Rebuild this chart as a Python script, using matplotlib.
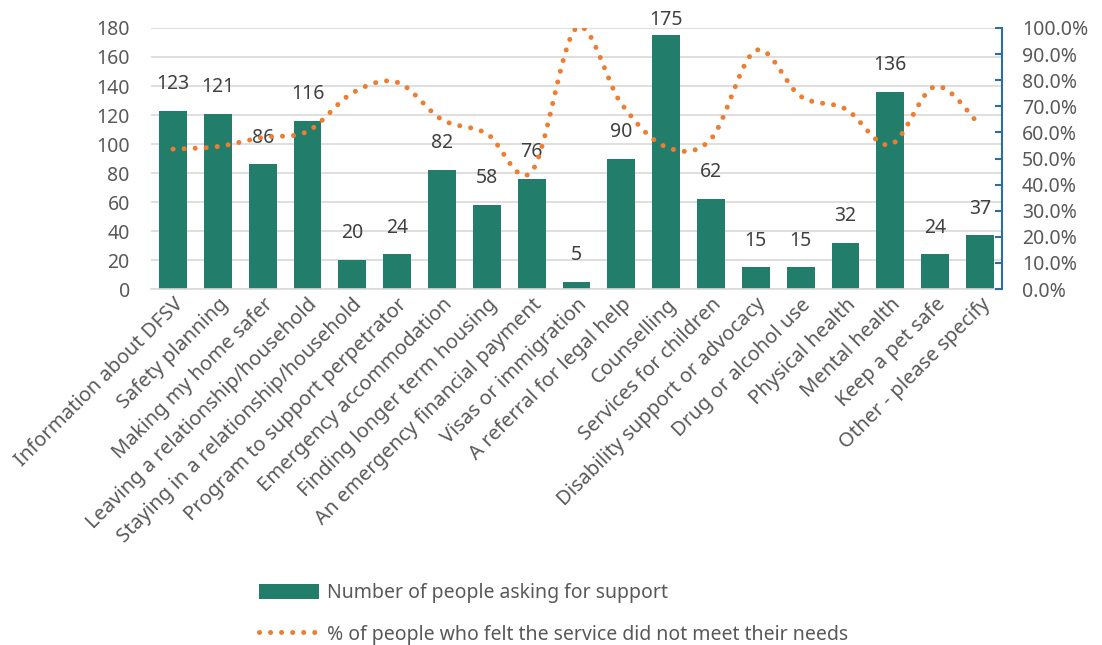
import matplotlib
matplotlib.use("Agg")
import matplotlib.pyplot as plt
from matplotlib.ticker import PercentFormatter
import numpy as np

plt.rcParams['font.family'] = ['Noto Sans', 'DejaVu Sans']

categories = [
    "Information about DFSV", "Safety planning", "Making my home safer",
    "Leaving a relationship/household", "Staying in a relationship/household",
    "Program to support perpetrator", "Emergency accommodation",
    "Finding longer term housing", "An emergency financial payment",
    "Visas or immigration", "A referral for legal help", "Counselling",
    "Services for children", "Disability support or advocacy",
    "Drug or alcohol use", "Physical health", "Mental health",
    "Keep a pet safe", "Other - please specify",
]
people_asking = [123, 121, 86, 116, 20, 24, 82, 58, 76, 5, 90, 175, 62, 15, 15, 32, 136, 24, 37]
pct_not_met = [53.6, 54.6, 58.1, 60.4, 75.1, 79.2, 64.9, 59.5, 45.0, 100.0,
               71.0, 54.4, 57.5, 91.4, 73.8, 69.0, 55.3, 77.6, 62.7]

bar_color = "#237D6B"
line_color = "#ED7D31"
text_color = "#595959"


def smooth(xs, ys, n=30):
    # Excel-style smoothed line: cubic Bezier through each point
    xs = np.asarray(xs, float)
    ys = np.asarray(ys, float)
    px, py = [], []
    for i in range(len(xs) - 1):
        x0, y0 = xs[max(i - 1, 0)], ys[max(i - 1, 0)]
        x1, y1 = xs[i], ys[i]
        x2, y2 = xs[i + 1], ys[i + 1]
        x3, y3 = xs[min(i + 2, len(xs) - 1)], ys[min(i + 2, len(ys) - 1)]
        c1x, c1y = x1 + (x2 - x0) / 6, y1 + (y2 - y0) / 6
        c2x, c2y = x2 - (x3 - x1) / 6, y2 - (y3 - y1) / 6
        t = np.linspace(0, 1, n, endpoint=(i == len(xs) - 2))
        a, b, c, d = (1 - t) ** 3, 3 * (1 - t) ** 2 * t, 3 * (1 - t) * t ** 2, t ** 3
        px.extend(a * x1 + b * c1x + c * c2x + d * x2)
        py.extend(a * y1 + b * c1y + c * c2y + d * y2)
    return np.array(px), np.array(py)


fig = plt.figure(figsize=(11.02, 6.45), dpi=100)
ax = fig.add_axes([0.1367, 0.5519, 0.7729, 0.4047])
x = np.arange(len(categories))

bars = ax.bar(x, people_asking, width=0.62, color=bar_color, zorder=2,
              label="Number of people asking for support")
for xi, v in zip(x, people_asking):
    off = 12 if v < 170 else 4
    ax.annotate(str(v), (xi, v), xytext=(0, off), textcoords="offset points",
                ha="center", va="bottom", fontsize=14, color="#404040", zorder=5)

ax.set_xlim(-0.5, len(categories) - 0.5)
ax.set_ylim(0, 180)
ax.set_yticks(range(0, 181, 20))
ax.grid(axis="y", color="#D9D9D9", lw=1.2, zorder=0)
ax.set_axisbelow(True)
for s in ["top", "right", "left"]:
    ax.spines[s].set_visible(False)
ax.spines["bottom"].set_color("#D9D9D9")
ax.spines["bottom"].set_linewidth(1.2)
ax.tick_params(axis="y", length=0, pad=15, labelsize=14, labelcolor=text_color)
ax.tick_params(axis="x", length=0, pad=4)
ax.set_xticks(x)
ax.set_xticklabels(categories, rotation=45, ha="right", rotation_mode="anchor",
                   fontsize=14.5, color=text_color)

ax2 = ax.twinx()
sx, sy = smooth(x, pct_not_met)
ax2.plot(sx, sy, color=line_color, lw=3.6, linestyle=(0, (0.01, 2.2)),
         dash_capstyle="round", zorder=4,
         label="% of people who felt the service did not meet their needs")
ax2.set_ylim(0, 100)
ax2.set_yticks(range(0, 101, 10))
ax2.yaxis.set_major_formatter(PercentFormatter(decimals=1))
for s in ["top", "left", "bottom"]:
    ax2.spines[s].set_visible(False)
ax2.spines["right"].set_color("#2E6E9E")
ax2.spines["right"].set_linewidth(1.5)
ax2.tick_params(axis="y", direction="in", length=5, width=1.5, color="#2E6E9E",
                pad=14, labelsize=14, labelcolor=text_color)

h1, l1 = ax.get_legend_handles_labels()
h2, l2 = ax2.get_legend_handles_labels()
fig.legend(h1 + h2, l1 + l2, loc="upper left", bbox_to_anchor=(0.228, 0.108),
           ncol=1, frameon=False, fontsize=14, labelcolor=text_color,
           handlelength=3.1, handleheight=0.8, labelspacing=1.1, handletextpad=0.4,
           borderaxespad=0)

fig.savefig("out.png", dpi=100)
